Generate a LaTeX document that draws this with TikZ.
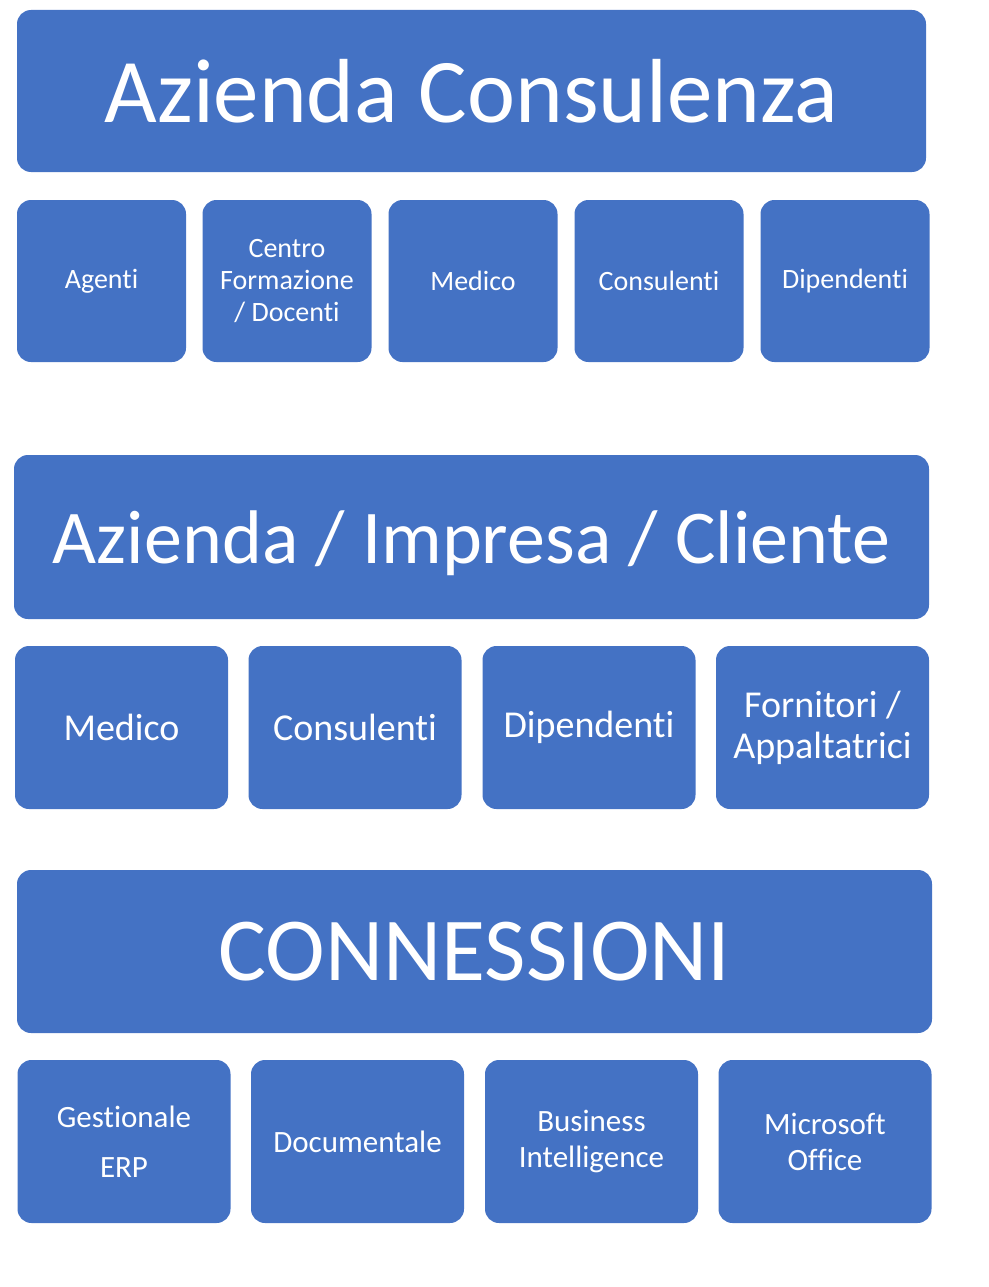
\documentclass[tikz,border=0pt]{standalone}
\usepackage{fontspec}
\setmainfont{Carlito}[Ligatures=NoCommon]
\usepackage{tikz}
\definecolor{officeblue}{HTML}{4472C4}

\begin{document}
\begin{tikzpicture}[x=1pt,y=-1pt,
		block/.style={fill=officeblue, draw=none, rounded corners=14pt, text=white, align=center, inner sep=0pt},
		titlebox/.style={block, text depth=0pt},
		groupbox/.style={block, minimum width=169pt, minimum height=162pt, font=\fontsize{28}{32}\selectfont},
		rolebox/.style={block, minimum width=213pt, minimum height=163pt, font=\fontsize{38}{41}\selectfont},
		toolbox/.style={block, minimum width=213pt, minimum height=163pt, font=\fontsize{31}{36}\selectfont}]
			\useasboundingbox (0,0) rectangle (988,1287);
			\node[titlebox, minimum width=909pt, minimum height=162pt, font=\fontsize{91}{100}\selectfont] (consulenza) at (471.5,91) {Azienda Consulenza};
			\node[groupbox] (agenti) at (101.5,281) {Agenti};
			\node[groupbox] (centro) at (287,281) {Centro\\Formazione\\/ Docenti};
			\node[groupbox] (medicoa) at (473,281) {Medico};
			\node[groupbox] (consulentia) at (659,281) {Consulenti};
			\node[groupbox] (dipendentia) at (845,281) {Dipendenti};
			\node[titlebox, minimum width=915pt, minimum height=164pt, font=\fontsize{76}{84}\selectfont] (cliente) at (471.5,537) {Azienda / Impresa / Cliente};
			\node[rolebox] (medicob) at (121.5,727.5) {Medico};
			\node[rolebox] (consulentib) at (355,727.5) {Consulenti};
			\node[rolebox] (dipendentib) at (589,727.5) {Dipendenti};
			\node[rolebox] (fornitori) at (822.5,727.5) {Fornitori /\\Appaltatrici};
			\node[titlebox, minimum width=915pt, minimum height=163pt, font=\fontsize{90}{100}\selectfont] (connessioni) at (474.5,951.5) {CONNESSIONI};
			\node[toolbox, font=\fontsize{31}{50}\selectfont] (erp) at (124,1141.5) {Gestionale\\ERP};
			\node[toolbox] (documentale) at (357.5,1141.5) {Documentale};
			\node[toolbox] (bi) at (591.5,1141.5) {Business\\Intelligence};
			\node[toolbox] (office) at (825,1141.5) {Microsoft\\Office};
		\end{tikzpicture}
\end{document}
